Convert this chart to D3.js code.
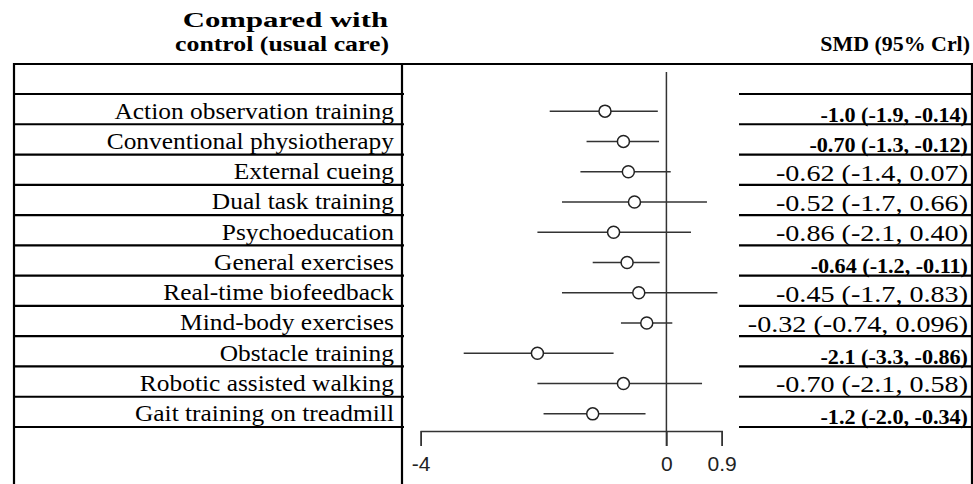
<!DOCTYPE html>
<html>
<head>
<meta charset="utf-8">
<script src="https://cdn.jsdelivr.net/npm/d3@7"></script>
<style>
  body { margin: 0; background: #fff; }
  .serif { font-family: "Liberation Serif", "Times New Roman", serif; fill: #000; }
  .tick text { font-family: "Liberation Sans", Arial, sans-serif; }
</style>
</head>
<body>
<div class="forest"></div>
<script>
// interventions compared with usual care
const treatments = [
  "Action observation training",
  "Conventional physiotherapy",
  "External cueing",
  "Dual task training",
  "Psychoeducation",
  "General exercises",
  "Real-time biofeedback",
  "Mind-body exercises",
  "Obstacle training",
  "Robotic assisted walking",
  "Gait training on treadmill"
]
const smd = [-1.0, -0.70, -0.62, -0.52, -0.86, -0.64, -0.45, -0.32, -2.1, -0.70, -1.2]
const lower = [-1.9, -1.3, -1.4, -1.7, -2.1, -1.2, -1.7, -0.74, -3.3, -2.1, -2.0]
const upper = [-0.14, -0.12, 0.07, 0.66, 0.40, -0.11, 0.83, 0.096, -0.86, 0.58, -0.34]
const ciLabels = [
  "-1.0 (-1.9, -0.14)",
  "-0.70 (-1.3, -0.12)",
  "-0.62 (-1.4, 0.07)",
  "-0.52 (-1.7, 0.66)",
  "-0.86 (-2.1, 0.40)",
  "-0.64 (-1.2, -0.11)",
  "-0.45 (-1.7, 0.83)",
  "-0.32 (-0.74, 0.096)",
  "-2.1 (-3.3, -0.86)",
  "-0.70 (-2.1, 0.58)",
  "-1.2 (-2.0, -0.34)"
]
const xTicks = [-4, 0, 0.9]

const width = 973, height = 484

const rows = treatments.map((t, i) => ({
  name: t, est: smd[i], lo: lower[i], hi: upper[i], label: ciLabels[i], sig: upper[i] < 0
}))

const svg = d3.select('.forest')
  .append('svg')
  .attr('width', width)
  .attr('height', height)

// column geometry
const leftCol = { x0: 14, x1: 402 }
const rightCol = { x0: 739, x1: 972 }
const tableTop = 64, headBottom = 94, bodyBottom = 427

const xScale = d3.scaleLinear()
  .domain([-4, 0.9])
  .range([420.7, 721.7])

const yScale = d3.scaleBand()
  .domain(treatments)
  .range([headBottom, bodyBottom])

// the reference text is drawn wider than it is tall, so text gets a horizontal stretch
const placeText = (sel, x, y, sx) =>
  sel.attr('transform', `translate(${x},${y}) scale(${sx},1)`)

// ---- table frame ----
const frame = svg.append('g').attr('stroke', '#000').attr('stroke-width', 2.2)

frame.append('line')
  .attr('x1', leftCol.x0).attr('x2', rightCol.x1)
  .attr('y1', tableTop).attr('y2', tableTop)

frame.selectAll('.vline')
  .data([leftCol.x0, leftCol.x1, rightCol.x1])
  .join('line')
  .attr('x1', d => d).attr('x2', d => d)
  .attr('y1', tableTop - 1).attr('y2', height)

const rowEdges = [headBottom].concat(treatments.map(t => yScale(t) + yScale.bandwidth()))

frame.selectAll('.hleft')
  .data(rowEdges)
  .join('line')
  .attr('x1', leftCol.x0).attr('x2', leftCol.x1 + 2)
  .attr('y1', d => d).attr('y2', d => d)

frame.selectAll('.hright')
  .data(rowEdges)
  .join('line')
  .attr('x1', rightCol.x0).attr('x2', rightCol.x1)
  .attr('y1', d => d).attr('y2', d => d)

// ---- headers ----
svg.append('text')
  .attr('class', 'serif')
  .attr('font-weight', 'bold')
  .attr('font-size', 21.5)
  .attr('text-anchor', 'end')
  .attr('textLength', 171)
  .attr('lengthAdjust', 'spacingAndGlyphs')
  .call(placeText, 388, 27, 1.2)
  .text('Compared with')

svg.append('text')
  .attr('class', 'serif')
  .attr('font-weight', 'bold')
  .attr('font-size', 21.5)
  .attr('text-anchor', 'end')
  .call(placeText, 389, 51, 1.2)
  .text('control (usual care)')

svg.append('text')
  .attr('class', 'serif')
  .attr('font-weight', 'bold')
  .attr('font-size', 21.5)
  .attr('text-anchor', 'end')
  .call(placeText, 970, 51, 1.02)
  .text('SMD (95% Crl)')

// ---- row labels ----
svg.selectAll('.rowName')
  .data(rows)
  .join('text')
  .attr('class', 'serif')
  .attr('font-size', 22.5)
  .attr('text-anchor', 'end')
  .each(function(d) { d3.select(this).call(placeText, 394, yScale(d.name) + 24.5, 1.13) })
  .text(d => d.name)

svg.selectAll('.rowValue')
  .data(rows)
  .join('text')
  .attr('class', 'serif')
  .attr('font-size', d => d.sig ? 21.5 : 22.5)
  .attr('font-weight', d => d.sig ? 'bold' : 'normal')
  .attr('text-anchor', 'end')
  .each(function(d) {
    d3.select(this).call(placeText, 968, yScale(d.name) + (d.sig ? 27.5 : 26), d.sig ? 1.03 : 1.25)
  })
  .text(d => d.label)

// ---- axis ----
const axisY = 431
const axis = svg.append('g')
  .attr('transform', `translate(0, ${axisY})`)
  .call(
    d3.axisBottom(xScale)
      .tickValues(xTicks)
      .tickFormat(d => d)
      .tickSize(15)
      .tickSizeOuter(15)
      .tickPadding(10)
  )
axis.selectAll('.domain, .tick line')
  .attr('stroke', '#333')
  .attr('stroke-width', 1.5)
axis.selectAll('.tick text')
  .attr('font-size', 21)
  .attr('fill', '#222')

// no-effect line
svg.append('line')
  .attr('x1', xScale(0)).attr('x2', xScale(0))
  .attr('y1', 72).attr('y2', axisY + 15)
  .attr('stroke', '#333')
  .attr('stroke-width', 1.5)

// ---- credible intervals and estimates ----
const yMid = d => yScale(d.name) + yScale.bandwidth() / 2 + 2

svg.selectAll('.ci')
  .data(rows)
  .join('line')
  .attr('x1', d => xScale(d.lo))
  .attr('x2', d => xScale(d.hi))
  .attr('y1', yMid).attr('y2', yMid)
  .attr('stroke', '#333')
  .attr('stroke-width', 1.5)

svg.selectAll('.est')
  .data(rows)
  .join('circle')
  .attr('cx', d => xScale(d.est))
  .attr('cy', yMid)
  .attr('r', 6)
  .attr('fill', '#fff')
  .attr('stroke', '#222')
  .attr('stroke-width', 1.5)
</script>
</body>
</html>
